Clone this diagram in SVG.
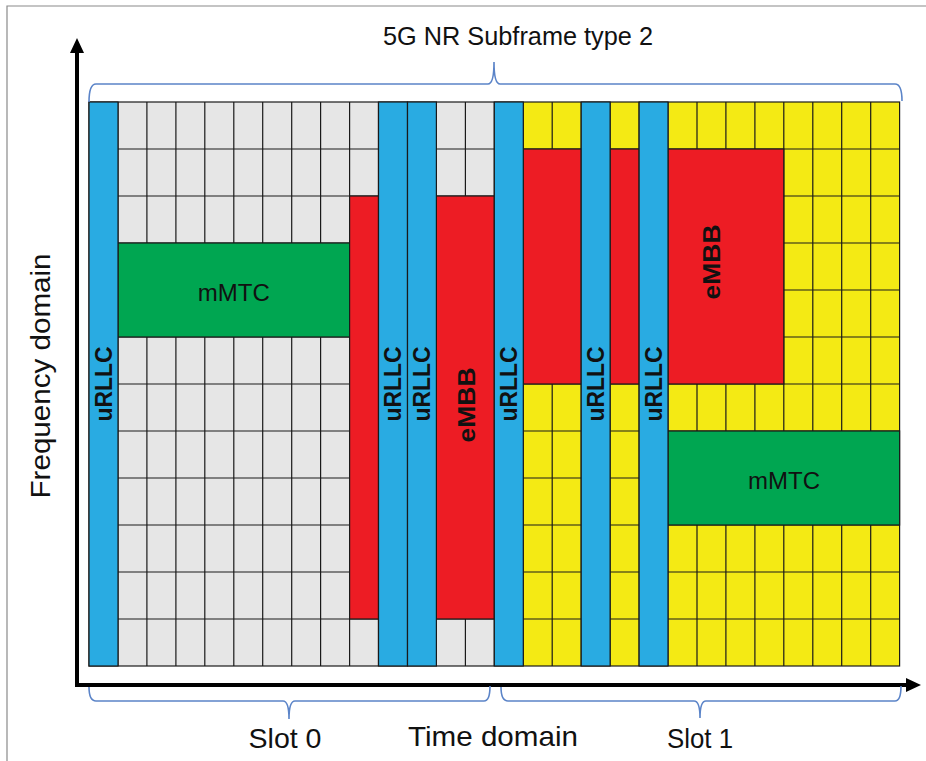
<svg xmlns="http://www.w3.org/2000/svg" width="926" height="761" viewBox="0 0 926 761">
  <style>
    .cell { stroke: #1a1a1a; stroke-width: 1.2; }
    .gray { fill: #e6e6e6; }
    .yellow { fill: #f4ea14; }
    .blue { fill: #29abe2; stroke: #1a1a1a; stroke-width: 1.2; }
    .red { fill: #ed1c24; stroke: #1a1a1a; stroke-width: 1.2; }
    .green { fill: #00a651; stroke: #1a1a1a; stroke-width: 1.2; }
    .grid { fill: none; stroke: #1a1a1a; stroke-width: 1.2; }
    .brace { fill: none; stroke: #5b84c8; stroke-width: 1.6; }
    .axis { fill: none; stroke: #000; stroke-width: 4; }
    .t { font-family: "Liberation Sans", Arial, sans-serif; fill: #111; }
    .vb { font-weight: bold; font-size: 23px; text-anchor: middle; }
    .mm { font-size: 24px; text-anchor: middle; }
    .ax { font-size: 28px; text-anchor: middle; }
  </style>
  <defs>
    <marker id="arrow" markerUnits="userSpaceOnUse" markerWidth="15" markerHeight="14" viewBox="0 0 15 14" refX="2" refY="7" orient="auto-start-reverse">
      <path d="M0,0 L15,7 L0,14 z" fill="#000"/>
    </marker>
  </defs>

  <rect width="926" height="761" fill="#fff"/>
  <path d="M7,761 V6 H926" fill="none" stroke="#8a8a8a" stroke-width="1.2"/>

  <g id="title">
    <text class="t" x="518" y="45" font-size="25" text-anchor="middle" textLength="270" lengthAdjust="spacingAndGlyphs">5G NR Subframe type 2</text>
  </g>

  <g id="resource-grid">
    <rect class="gray" x="89" y="102" width="405.3" height="564"/>
    <rect class="yellow" x="494.3" y="102" width="405.3" height="564"/>
    <path class="grid" d="M118,102V666 M146.9,102V666 M175.9,102V666 M204.8,102V666 M233.8,102V666 M262.7,102V666 M291.7,102V666 M320.6,102V666 M349.6,102V666 M378.5,102V666 M407.5,102V666 M436.4,102V666 M465.4,102V666 M494.3,102V666 M523.3,102V666 M552.2,102V666 M581.2,102V666 M610.1,102V666 M639.1,102V666 M668,102V666 M697,102V666 M725.9,102V666 M754.9,102V666 M783.8,102V666 M812.8,102V666 M841.7,102V666 M870.7,102V666
      M89,149H899.6 M89,196H899.6 M89,243H899.6 M89,290H899.6 M89,337H899.6 M89,384H899.6 M89,431H899.6 M89,478H899.6 M89,525H899.6 M89,572H899.6 M89,619H899.6"/>
    <rect class="grid" x="89" y="102" width="810.6" height="564"/>
  </g>

  <g id="mmtc-slot0">
    <rect class="green" x="118" y="243" width="231.6" height="94"/>
    <text class="t mm" x="233.8" y="301">mMTC</text>
  </g>
  <g id="embb-slot0-a">
    <rect class="red" x="349.6" y="196" width="28.9" height="423"/>
  </g>
  <g id="embb-slot0-b">
    <rect class="red" x="436.4" y="196" width="57.9" height="423"/>
    <text class="t vb" transform="translate(475,405) rotate(-90)" textLength="75" lengthAdjust="spacingAndGlyphs">eMBB</text>
  </g>
  <g id="embb-slot1-a">
    <rect class="red" x="523.3" y="149" width="57.9" height="235"/>
  </g>
  <g id="embb-slot1-b">
    <rect class="red" x="610.1" y="149" width="29" height="235"/>
  </g>
  <g id="embb-slot1-c">
    <rect class="red" x="668" y="149" width="115.8" height="235"/>
    <text class="t vb" transform="translate(720,262) rotate(-90)" textLength="75" lengthAdjust="spacingAndGlyphs">eMBB</text>
  </g>
  <g id="mmtc-slot1">
    <rect class="green" x="668" y="431" width="231.6" height="94"/>
    <text class="t mm" x="784" y="489">mMTC</text>
  </g>

  <g id="urllc-0">
    <rect class="blue" x="89" y="102" width="29" height="564"/>
    <text class="t vb" transform="translate(111.5,384) rotate(-90)" textLength="75" lengthAdjust="spacingAndGlyphs">uRLLC</text>
  </g>
  <g id="urllc-10">
    <rect class="blue" x="378.5" y="102" width="29" height="564"/>
    <text class="t vb" transform="translate(401,384) rotate(-90)" textLength="75" lengthAdjust="spacingAndGlyphs">uRLLC</text>
  </g>
  <g id="urllc-11">
    <rect class="blue" x="407.5" y="102" width="28.9" height="564"/>
    <text class="t vb" transform="translate(430,384) rotate(-90)" textLength="75" lengthAdjust="spacingAndGlyphs">uRLLC</text>
  </g>
  <g id="urllc-14">
    <rect class="blue" x="494.3" y="102" width="29" height="564"/>
    <text class="t vb" transform="translate(517,384) rotate(-90)" textLength="75" lengthAdjust="spacingAndGlyphs">uRLLC</text>
  </g>
  <g id="urllc-17">
    <rect class="blue" x="581.2" y="102" width="28.9" height="564"/>
    <text class="t vb" transform="translate(604,384) rotate(-90)" textLength="75" lengthAdjust="spacingAndGlyphs">uRLLC</text>
  </g>
  <g id="urllc-19">
    <rect class="blue" x="639.1" y="102" width="28.9" height="564"/>
    <text class="t vb" transform="translate(661.5,384) rotate(-90)" textLength="75" lengthAdjust="spacingAndGlyphs">uRLLC</text>
  </g>

  <g id="connectors">
    <path class="axis" d="M77,51 V685 H908" marker-start="url(#arrow)" marker-end="url(#arrow)"/>
    <path class="brace" d="M89,102 Q89,84 96,84 H488 Q494,84 494,62 Q494,84 500,84 H895 Q902,84 902,101"/>
    <path class="brace" d="M89,687 Q89,701 96,701 H283 Q289,701 289,719 Q289,701 295,701 H484 Q490,701 490,686"/>
    <path class="brace" d="M501,687 Q501,701 508,701 H694 Q700,701 700,718 Q700,701 706,701 H895 Q901,701 901,686"/>
  </g>

  <g id="axis-labels">
    <text class="t ax" transform="translate(50,376) rotate(-90)" textLength="245" lengthAdjust="spacingAndGlyphs">Frequency domain</text>
    <text class="t ax" x="493" y="746" textLength="170" lengthAdjust="spacingAndGlyphs">Time domain</text>
    <text class="t ax" x="285" y="748" textLength="73" lengthAdjust="spacingAndGlyphs">Slot 0</text>
    <text class="t ax" x="700" y="748" textLength="66" lengthAdjust="spacingAndGlyphs">Slot 1</text>
  </g>
</svg>
